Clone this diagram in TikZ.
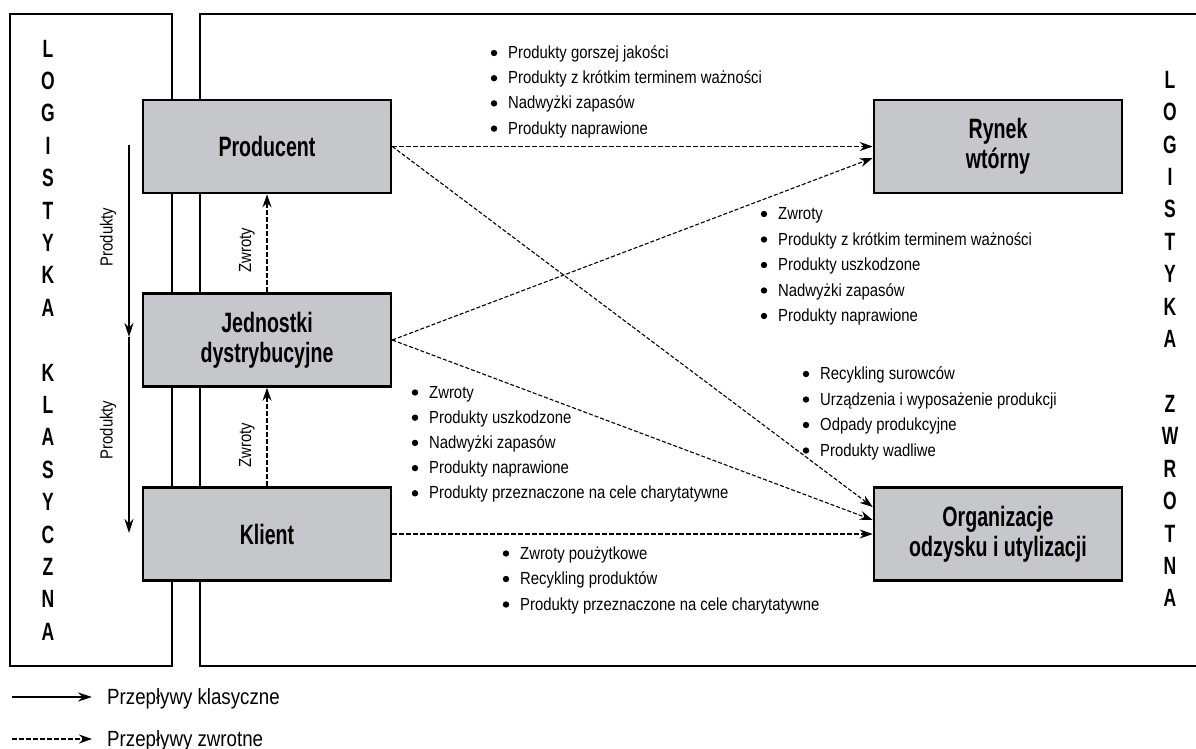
\documentclass[tikz,border=0pt]{standalone}
\usepackage{fontspec}
\setmainfont{Liberation Sans}
\newfontfamily\boxfont[FakeStretch=0.7]{Liberation Sans}
\newfontfamily\listfont[FakeStretch=0.85]{Liberation Sans}
\usetikzlibrary{arrows.meta,calc}
\definecolor{boxgray}{RGB}{198,199,203}

\begin{document}
\begin{tikzpicture}[x=1pt,y=-1pt,
  frame/.style={line width=2.6pt},
  entity/.style={draw, line width=2.6pt, fill=boxgray, minimum width=248pt,
    minimum height=93pt, inner sep=0pt, align=center,
    font=\boxfont\bfseries\fontsize{28}{30}\selectfont},
  vert/.style={align=center, inner sep=0pt,
    font=\boxfont\bfseries\fontsize{25}{32.4}\selectfont},
  item/.style={anchor=base west, inner sep=0pt,
    font=\listfont\fontsize{17.5}{25}\selectfont},
  sidelabel/.style={rotate=90, inner sep=0pt,
    font=\listfont\fontsize{17.5}{25}\selectfont},
  legendtext/.style={anchor=base west, inner sep=0pt,
    font=\listfont\fontsize{22}{26}\selectfont},
  classic/.style={-{Stealth[length=14pt,width=9pt]}, line width=1.5pt},
  ret/.style={-{Stealth[length=13pt,width=9pt]}, line width=1.6pt,
    dash pattern=on 5pt off 2pt},
  retdiag/.style={-{Stealth[length=13pt,width=9pt]}, line width=1.1pt,
    dash pattern=on 4pt off 2pt},
  bullet/.style={fill=black}
]
\useasboundingbox (0,0) rectangle (1196,749);

% the two frames
\draw[frame] (10,14) rectangle (172,666);
\draw[frame] (1196,14) -- (200,14) -- (200,666) -- (1196,666);

% side captions
\node[vert] (lk) at (48,340) {L\\O\\G\\I\\S\\T\\Y\\K\\A\\[32.4pt]K\\L\\A\\S\\Y\\C\\Z\\N\\A};
\node[vert] (lz) at (1170,339) {L\\O\\G\\I\\S\\T\\Y\\K\\A\\[32.6pt]Z\\W\\R\\O\\T\\N\\A};

% actors
\node[entity] (pro) at (267,146.5) {Producent};
\node[entity] (jed) at (267,340) {Jednostki\\dystrybucyjne};
\node[entity] (kli) at (267,534) {Klient};
\node[entity] (ryn) at (998,146.5) {Rynek\\wtórny};
\node[entity] (org) at (998,534) {Organizacje\\odzysku i utylizacji};

% classic product flow
\coordinate (c1) at (129,145);
\coordinate (c2) at (129,337);
\coordinate (c3) at (129,533);
\draw[classic] (c1) -- (c2);
\draw[classic] (c2) -- (c3);
\node[sidelabel] (pl1) at (108,237) {Produkty};
\node[sidelabel] (pl2) at (108,430) {Produkty};

% returns between actors
\draw[ret] (jed.north) -- (pro.south);
\draw[ret] (kli.north) -- (jed.south);
\node[sidelabel] (zl1) at (247,250) {Zwroty};
\node[sidelabel] (zl2) at (247,445) {Zwroty};

% reverse flows
\draw[ret] (pro.east) -- (ryn.west);
\draw[retdiag] (jed.east) -- ($(ryn.west)+(0,11.5)$);
\draw[retdiag] (pro.east) -- ($(org.west)+(0,-27)$);
\draw[retdiag] (jed.east) -- ($(org.west)+(0,-14)$);
\draw[ret] (kli.east) -- (org.west);

% lists of goods
\foreach \t [count=\i] in {Produkty gorszej jakości, Produkty z krótkim terminem ważności, Nadwyżki zapasów, Produkty naprawione}{
  \node[item] (la\i) at (508,{58.5+25.2*(\i-1)}) {\t};
  \fill[bullet] ($(la\i.base west)+(-14,-5.5)$) circle (3.2);
}
\foreach \t [count=\i] in {Zwroty, Produkty z krótkim terminem ważności, Produkty uszkodzone, Nadwyżki zapasów, Produkty naprawione}{
  \node[item] (lb\i) at (778,{219.5+25.5*(\i-1)}) {\t};
  \fill[bullet] ($(lb\i.base west)+(-14,-5.5)$) circle (3.2);
}
\foreach \t [count=\i] in {Recykling surowców, Urządzenia i wyposażenie produkcji, Odpady produkcyjne, Produkty wadliwe}{
  \node[item] (lc\i) at (820,{379.5+25.5*(\i-1)}) {\t};
  \fill[bullet] ($(lc\i.base west)+(-14,-5.5)$) circle (3.2);
}
\foreach \t [count=\i] in {Zwroty, Produkty uszkodzone, Nadwyżki zapasów, Produkty naprawione, Produkty przeznaczone na cele charytatywne}{
  \node[item] (ld\i) at (429,{398+25.2*(\i-1)}) {\t};
  \fill[bullet] ($(ld\i.base west)+(-14,-5.5)$) circle (3.2);
}
\foreach \t [count=\i] in {Zwroty poużytkowe, Recykling produktów, Produkty przeznaczone na cele charytatywne}{
  \node[item] (le\i) at (520,{559+25.5*(\i-1)}) {\t};
  \fill[bullet] ($(le\i.base west)+(-14,-5.5)$) circle (3.2);
}

% legend
\coordinate (ga) at (12,697);
\coordinate (gb) at (92,697);
\coordinate (gc) at (12,739);
\coordinate (gd) at (92,739);
\draw[classic] (ga) -- (gb);
\draw[ret] (gc) -- (gd);
\node[legendtext] (lg1) at (107,704) {Przepływy klasyczne};
\node[legendtext] (lg2) at (107,746) {Przepływy zwrotne};
\end{tikzpicture}
\end{document}
